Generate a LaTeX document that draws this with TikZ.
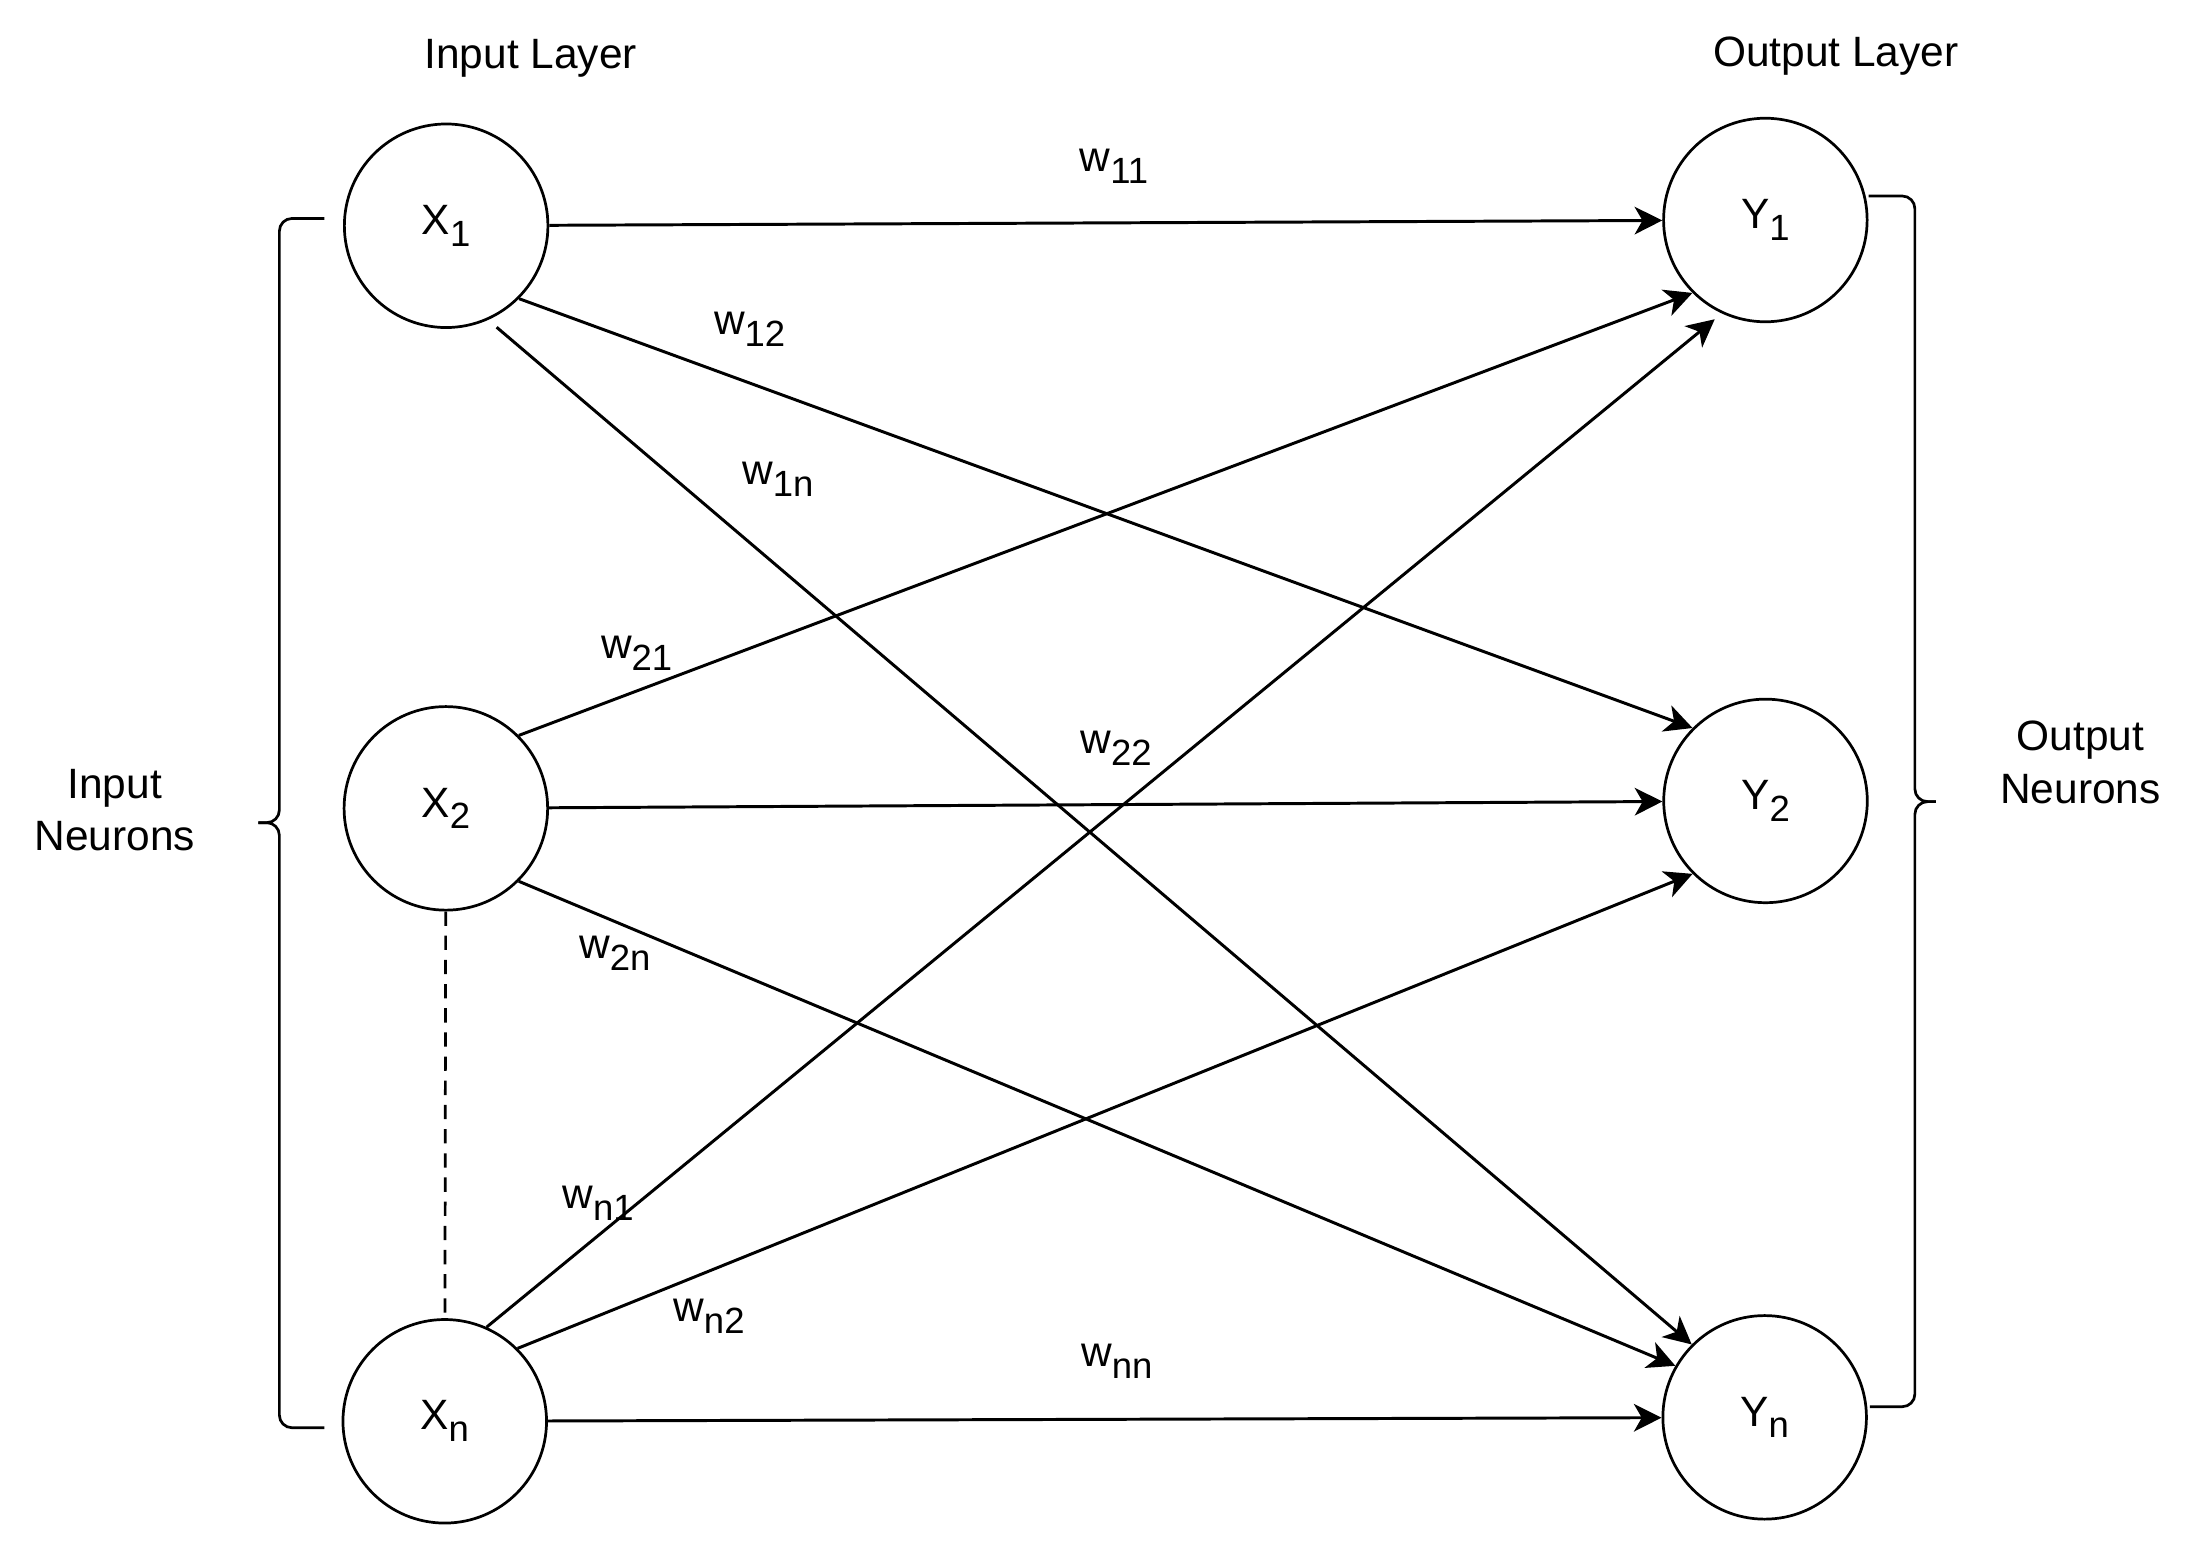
\documentclass[tikz,border=0pt]{standalone}
\usepackage{fontspec}
\setmainfont{Liberation Sans}
\usetikzlibrary{arrows.meta}
\newcommand{\subidx}[1]{\raisebox{-2.4pt}{\fontsize{7.4}{8}\selectfont #1}}

\begin{document}
\begin{tikzpicture}[
    neuron/.style={circle, draw, line width=0.55pt, minimum size=1.45cm, inner sep=0pt, font=\fontsize{8.6}{10.6}\selectfont},
    weight/.style={inner sep=0pt, anchor=base, font=\fontsize{8.6}{10.6}\selectfont},
    caption/.style={inner sep=0pt, align=center, font=\fontsize{8.6}{10.6}\selectfont},
    conn/.style={line width=0.6pt, -{Stealth[length=5.6pt,width=5.6pt,inset=1.6pt]}},
    bracket/.style={line width=0.55pt, rounded corners=0.09cm}
    ]
    \useasboundingbox (0,0) rectangle (15.6,-11.111);
    \node[neuron] (X1) at (3.178,-1.608) {X\subidx{1}};
    \node[neuron] (X2) at (3.176,-5.758) {X\subidx{2}};
    \node[neuron] (Xn) at (3.168,-10.124) {X\subidx{n}};
    \node[neuron] (Y1) at (12.575,-1.567) {Y\subidx{1}};
    \node[neuron] (Y2) at (12.576,-5.705) {Y\subidx{2}};
    \node[neuron] (Yn) at (12.570,-10.096) {Y\subidx{n}};
    \node[weight] (inlayer) at (3.78,-0.487) {Input Layer};
    \node[weight] (outlayer) at (13.076,-0.475) {Output Layer};
    \node[caption] (inneurons) at (0.817,-5.77) {Input\\Neurons};
    \node[caption] (outneurons) at (14.82,-5.43) {Output\\Neurons};
    \draw[conn] (X1) -- (Y1);
    \draw[conn] (X1.-45) -- (Y2.135);
    \draw[conn, shorten <=0.8mm] (X1.-66) -- (Yn.135);
    \draw[conn] (X2.45) -- (Y1.-135);
    \draw[conn] (X2) -- (Y2);
    \draw[conn] (X2.-45) -- (Yn.150);
    \draw[conn, shorten >=0.65mm] (Xn.66) -- (Y1.-115);
    \draw[conn] (Xn.45) -- (Y2.-135);
    \draw[conn] (Xn) -- (Yn);
    \draw[line width=0.55pt, dash pattern=on 2.9pt off 2pt] (X2) -- (Xn);
    \node[weight] (w11) at (7.935,-1.223) {w\subidx{11}};
    \node[weight] (w12) at (5.34,-2.386) {w\subidx{12}};
    \node[weight] (w1n) at (5.54,-3.45) {w\subidx{1n}};
    \node[weight] (w21) at (4.535,-4.689) {w\subidx{21}};
    \node[weight] (w22) at (7.95,-5.366) {w\subidx{22}};
    \node[weight] (w2n) at (4.38,-6.826) {w\subidx{2n}};
    \node[weight] (wn1) at (4.26,-8.606) {w\subidx{n1}};
    \node[weight] (wn2) at (5.05,-9.414) {w\subidx{n2}};
    \node[weight] (wnn) at (7.955,-9.734) {w\subidx{nn}};
    \draw[bracket] (2.31,-1.556) -| (1.99,-5.86) -- (1.84,-5.86);
    \draw[bracket] (1.84,-5.86) -- (1.99,-5.86) |- (2.31,-10.17);
    \draw[bracket] (13.31,-1.396) -| (13.64,-5.71) -- (13.79,-5.71);
    \draw[bracket] (13.79,-5.71) -- (13.64,-5.71) |- (13.32,-10.02);
\end{tikzpicture}
\end{document}
